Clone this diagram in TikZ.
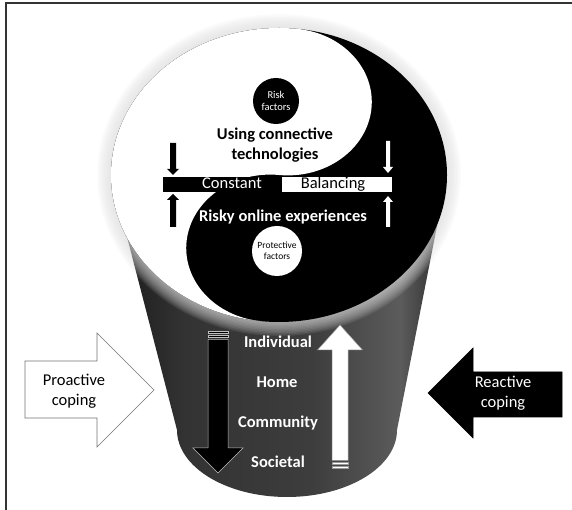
\documentclass[tikz,border=0pt]{standalone}
\usepackage{fontspec}
\setmainfont{Carlito}
\usetikzlibrary{calc}
\colorlet{cylA}{black!90}
\colorlet{cylB}{black!80}
\colorlet{cylC}{black!76}
\colorlet{cylD}{black!64}
\colorlet{cylE}{black!84}
\pgfdeclarehorizontalshading{cylshade}{100bp}{color(0bp)=(cylA); color(25bp)=(cylA); color(36bp)=(cylB); color(55bp)=(cylC); color(68bp)=(cylD); color(75bp)=(cylE); color(100bp)=(cylE)}
\begin{document}
\begin{tikzpicture}[x=1pt,y=1pt,
  lbl/.style={font=\fontsize{16.5}{20}\selectfont, inner sep=0pt, align=center},
  lblb/.style={font=\fontsize{16.5}{20}\selectfont\bfseries, inner sep=0pt, align=center},
  dottxt/.style={circle, inner sep=0pt, align=center},
  blockw/.style={fill=white, draw=black!55, line width=0.6pt},
  blockb/.style={fill=black, draw=black, line width=0.6pt},
  stripeb/.style={fill=black, draw=black!25, line width=0.5pt},
  stripew/.style={fill=white, draw=black!40, line width=0.5pt},
]
\useasboundingbox (0,0) rectangle (572,510);
% frame (top and left only)
\draw[line width=1.6pt, black!80] (572,507) -- (6,507) -- (6,0);

% cylinder body
\path[shading=cylshade] (111,335) -- (177,80)
  arc[start angle=180, end angle=360, x radius=110, y radius=67]
  -- (447,335) -- cycle;

% soft halo around the disc
\foreach \i in {1,...,10}{
  \fill[black!14, opacity=0.1] (279,335) ellipse [x radius={168+1.4*\i}, y radius={147+1.4*\i}];
}

% yin-yang disc
\fill[black] (279,335) ellipse [x radius=168, y radius=147];
\begin{scope}[shift={(279,335)}, xscale=168, yscale=147, rotate=-6]
  \fill[white] (0,1) arc[start angle=90, end angle=270, radius=1]
    arc[start angle=-90, end angle=-270, radius=0.5]
    arc[start angle=-90, end angle=90, radius=0.5] -- cycle;
\end{scope}

% dots
\node[dottxt, fill=black, text=white, minimum size=46pt,
  font=\fontsize{10.5}{12}\selectfont] (risk) at (276,409) {Risk\\factors};
\node[dottxt, fill=white, text=black, minimum size=50pt,
  font=\fontsize{9.5}{11}\selectfont] (prot) at (277,259) {Protective\\factors};

% main texts on the disc
\node[lblb] (uct) at (275,364.5) {Using connective\\technologies};
\node[lblb, text=white, anchor=base] (roe) at (283,288) {Risky online experiences};

% bar
\node[fill=black, minimum width=119pt, minimum height=15pt, inner sep=0pt, anchor=south west] (cbar) at (163,318) {};
\node[fill=white, minimum width=110pt, minimum height=15pt, inner sep=0pt, anchor=south west] (bbar) at (282,318) {};
\node[lbl, text=white, anchor=base] (const) at (232,321) {Constant};
\node[lbl, text=black, anchor=base] (bal) at (333,321) {Balancing};

% small arrows at the bar
\fill[black] (170,367) -- (176,367) -- (176,341) -- (179,341) -- (173,335) -- (167,341) -- (170,341) -- cycle;
\fill[black] (170,283) -- (176,283) -- (176,310) -- (179,310) -- (173,316) -- (167,310) -- (170,310) -- cycle;
\fill[white] (386,369) -- (390,369) -- (390,343) -- (393,343) -- (388,337) -- (383,343) -- (386,343) -- cycle;
\fill[white] (386,283) -- (390,283) -- (390,308) -- (393,308) -- (388,314) -- (383,308) -- (386,308) -- cycle;

% striped down arrow (black)
\filldraw[stripeb] (208,176.5) rectangle (228,179);
\filldraw[stripeb] (208,172.5) rectangle (228,175);
\filldraw[stripeb] (208,170.5) -- (228,170.5) -- (228,62) -- (243,62) -- (218,37) -- (193,62) -- (208,62) -- cycle;

% striped up arrow (white)
\filldraw[stripew] (332,45.5) rectangle (348,48);
\filldraw[stripew] (332,41.5) rectangle (348,44);
\filldraw[stripew] (332,49.5) -- (348,49.5) -- (348,160) -- (362.5,160) -- (340,185) -- (317.5,160) -- (332,160) -- cycle;

% level labels
\node[lblb, text=white, anchor=base] (ind) at (278,162) {Individual};
\node[lblb, text=white, anchor=base] (home) at (277,122) {Home};
\node[lblb, text=white, anchor=base] (comm) at (278,82) {Community};
\node[lblb, text=white, anchor=base] (soc) at (278,42) {Societal};

% side block arrows
\filldraw[blockw] (25,149) -- (97,149) -- (97,177) -- (154,120) -- (97,63) -- (97,92) -- (25,92) -- cycle;
\node[lbl, font=\fontsize{16.5}{19.5}\selectfont] (pro) at (74,119) {Proactive\\coping};
\filldraw[blockb] (562,138) -- (473,138) -- (473,162) -- (428,117) -- (473,72) -- (473,93) -- (562,93) -- cycle;
\node[lbl, text=white, font=\fontsize{16.5}{19.5}\selectfont] (rea) at (503,117) {Reactive\\coping};
\end{tikzpicture}
\end{document}
